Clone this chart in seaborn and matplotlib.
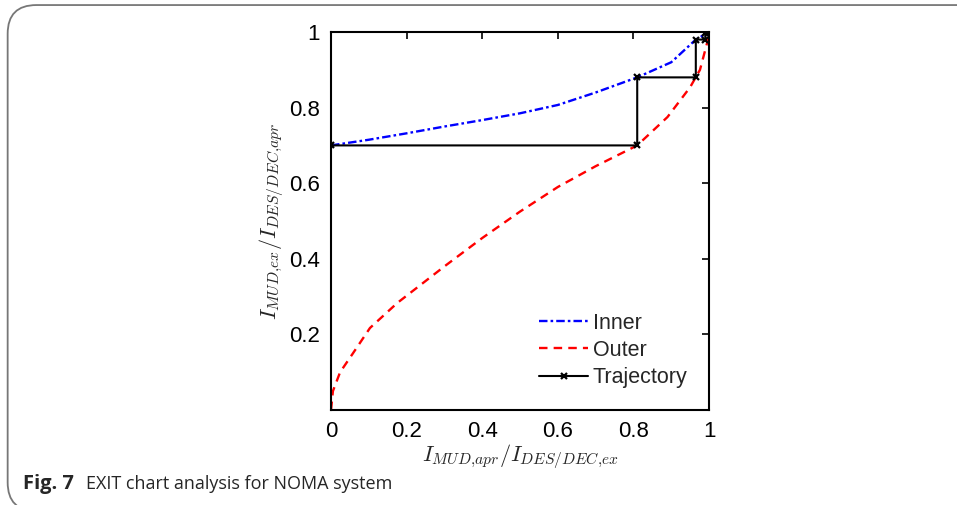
import pandas as pd
import matplotlib.pyplot as plt
import seaborn as sns
from matplotlib.patches import FancyBboxPatch

# EXIT curves
inner_x = [0, 0.1, 0.2, 0.3, 0.4, 0.5, 0.6, 0.7, 0.81, 0.9, 0.965, 1.0]
inner_y = [0.70, 0.715, 0.732, 0.75, 0.767, 0.785, 0.807, 0.84, 0.88, 0.92, 0.98, 1.0]

outer_x = [0, 0.005, 0.024, 0.058, 0.103, 0.175, 0.3, 0.4, 0.5, 0.6, 0.7, 0.81, 0.89, 0.95, 0.976, 0.997, 1.0]
outer_y = [0, 0.05, 0.10, 0.15, 0.217, 0.283, 0.38, 0.455, 0.525, 0.59, 0.645, 0.70, 0.775, 0.854, 0.90, 0.979, 1.0]

traj_x = [0, 0.81, 0.81, 0.965, 0.965, 0.99, 0.99, 1.0]
traj_y = [0.70, 0.70, 0.88, 0.88, 0.98, 0.98, 0.997, 1.0]

xticks = [0, 0.2, 0.4, 0.6, 0.8, 1]
xticklabels = ["0", "0.2", "0.4", "0.6", "0.8", "1"]
yticks = [0.2, 0.4, 0.6, 0.8, 1]
yticklabels = ["0.2", "0.4", "0.6", "0.8", "1"]

sns.set_style("white")
plt.rcParams["font.family"] = ["Liberation Sans", "DejaVu Sans"]
plt.rcParams["mathtext.fontset"] = "cm"

fig = plt.figure(figsize=(9.57, 5.05), dpi=100)
ax = fig.add_axes([0.3459, 0.1881, 0.395, 0.7485])

inner = pd.DataFrame({"x": inner_x, "y": inner_y})
outer = pd.DataFrame({"x": outer_x, "y": outer_y})
traj = pd.DataFrame({"x": traj_x, "y": traj_y})

sns.lineplot(data=inner, x="x", y="y", ax=ax, color="#0000ff", lw=1.7,
             linestyle=(0, (3.6, 1.3, 1.1, 1.3)), sort=False, estimator=None, label="Inner")
sns.lineplot(data=outer, x="x", y="y", ax=ax, color="#ff0000", lw=1.7,
             linestyle=(0, (3.6, 2.6)), sort=False, estimator=None, label="Outer")
sns.lineplot(data=traj, x="x", y="y", ax=ax, color="black", lw=1.5,
             marker="x", markersize=5, markeredgewidth=1.6, markeredgecolor="black",
             sort=False, estimator=None, label="Trajectory")

ax.set_xlim(0, 1)
ax.set_ylim(0, 1)
ax.set_xticks(xticks)
ax.set_xticklabels(xticklabels)
ax.set_yticks(yticks)
ax.set_yticklabels(yticklabels)
ax.tick_params(direction="in", length=5, width=1.2, labelsize=16, pad=8,
               top=True, right=True, color="black", labelcolor="black")
for s in ax.spines.values():
    s.set_color("black")
    s.set_linewidth(1.5)

ax.set_xlabel(r"$I_{MUD{,}apr}/I_{DES/DEC{,}ex}$", fontsize=16, labelpad=0)
ax.set_ylabel(r"$I_{MUD{,}ex}/I_{DES/DEC{,}apr}$", fontsize=16, labelpad=2)

ax.legend(loc="lower right", bbox_to_anchor=(1.0, 0.0), frameon=False, fontsize=15.5,
          handlelength=2.3, handletextpad=0.2, labelspacing=0.3, borderaxespad=0.6)

# page frame and caption
frame = FancyBboxPatch((0.008, -0.012), 1.1, 1.002, boxstyle="round,pad=0,rounding_size=0.03",
                       transform=fig.transFigure, fill=False, edgecolor="#777777", lw=1.3,
                       mutation_aspect=957 / 505)
fig.patches.append(frame)
fig.text(0.024, 0.032, "Fig. 7", fontsize=14.5, fontweight="bold", family="Open Sans",
         va="baseline")
fig.text(0.09, 0.032, "EXIT chart analysis for NOMA system", fontsize=13, family="Open Sans",
         va="baseline")

fig.savefig("out.png", dpi=100)
